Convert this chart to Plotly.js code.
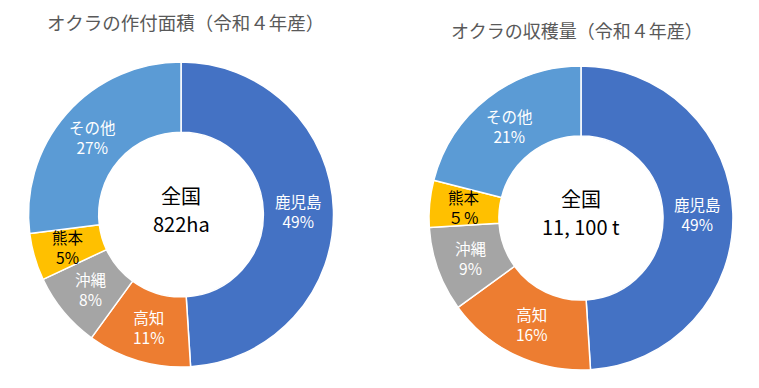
<!DOCTYPE html>
<html><head><meta charset="utf-8">
<script src="https://cdn.plot.ly/plotly-3.0.1.min.js"></script>
<style>html,body{margin:0;padding:0;background:#fff;}#chart{width:759px;height:388px;}</style>
</head><body><div id="chart"></div>
<script>
const categories = ["鹿児島", "高知", "沖縄", "熊本", "その他"];
const areaValues = [49, 11, 8, 5, 27];
const areaPctLabels = ["49%", "11%", "8%", "5%", "27%"];
const harvestValues = [49, 16, 9, 5, 21];
const harvestPctLabels = ["49%", "16%", "9%", "５％", "21%"];
const colors = ["#4472C4", "#ED7D31", "#A5A5A5", "#FFC000", "#5B9BD5"];
const textColors = ["#ffffff", "#ffffff", "#ffffff", "#000000", "#ffffff"];
const titleLeft = "オクラの作付面積（令和４年産）";
const titleRight = "オクラの収穫量（令和４年産）";
const centerHeading = "全国";
const totalLeft = "822ha";
const totalRight = "11, 100 t";

const FONT = "'Noto Sans CJK JP', 'Noto Sans', sans-serif";
const W = 759, H = 388;
const HOLE = 0.54;

const domLeft = {x: [0.0376, 0.4394], y: [0.0541, 0.8402]};
const domRight = {x: [0.5652, 0.9657], y: [0.0464, 0.8299]};

function pie(values, domain) {
  return {
    type: "pie",
    labels: categories,
    values: values,
    textinfo: "none",
    hole: HOLE,
    sort: false,
    direction: "clockwise",
    rotation: 0,
    marker: {colors: colors, line: {color: "#ffffff", width: 1.5}},
    domain: domain,
    hoverinfo: "label+value",
    showlegend: false
  };
}

function centerOf(domain) {
  return {cx: (domain.x[0] + domain.x[1]) / 2 * W, cy: (domain.y[0] + domain.y[1]) / 2 * H};
}

// slice labels placed at the middle of each ring segment, angles derived from the values
function sliceLabels(values, pcts, domain) {
  const c = centerOf(domain);
  const R = Math.min((domain.x[1] - domain.x[0]) * W, (domain.y[1] - domain.y[0]) * H) / 2;
  const rMid = R * (1 + HOLE) / 2;
  const total = values.reduce((a, b) => a + b, 0);
  let cum = 0;
  return values.map((v, i) => {
    const mid = (cum + v / 2) / total * 2 * Math.PI;
    cum += v;
    const px = c.cx + Math.sin(mid) * rMid;
    const py = c.cy + Math.cos(mid) * rMid;
    return {
      text: categories[i] + "<br>" + pcts[i],
      xref: "paper", yref: "paper", x: px / W, y: py / H,
      xanchor: "center", yanchor: "middle", showarrow: false,
      font: {family: FONT, size: 15.5, color: textColors[i]}
    };
  });
}

function centerTexts(domain, total) {
  const c = centerOf(domain);
  return [
    {text: centerHeading, xref: "paper", yref: "paper", x: c.cx / W, y: (c.cy + 19) / H,
     xanchor: "center", yanchor: "middle", showarrow: false, borderpad: 0,
     font: {family: FONT, size: 20, color: "#000000"}},
    {text: total, xref: "paper", yref: "paper", x: c.cx / W, y: (c.cy - 9) / H,
     xanchor: "center", yanchor: "middle", showarrow: false, borderpad: 0,
     font: {family: FONT, size: 20, color: "#000000"}}
  ];
}

const data = [
  pie(areaValues, domLeft),
  pie(harvestValues, domRight)
];

const layout = {
  width: W, height: H,
  margin: {l: 0, r: 0, t: 0, b: 0},
  paper_bgcolor: "#ffffff",
  showlegend: false,
  font: {family: FONT},
  annotations: [
    {text: titleLeft, xref: "paper", yref: "paper", x: 185/W, y: 1 - 22/H, xanchor: "center", yanchor: "middle", showarrow: false, font: {family: FONT, size: 18.5, color: "#595959"}},
    {text: titleRight, xref: "paper", yref: "paper", x: 577/W, y: 1 - 30/H, xanchor: "center", yanchor: "middle", showarrow: false, font: {family: FONT, size: 18, color: "#595959"}}
  ].concat(
    sliceLabels(areaValues, areaPctLabels, domLeft),
    sliceLabels(harvestValues, harvestPctLabels, domRight),
    centerTexts(domLeft, totalLeft),
    centerTexts(domRight, totalRight)
  )
};

Plotly.newPlot("chart", data, layout, {staticPlot: true});
</script>
</body></html>
